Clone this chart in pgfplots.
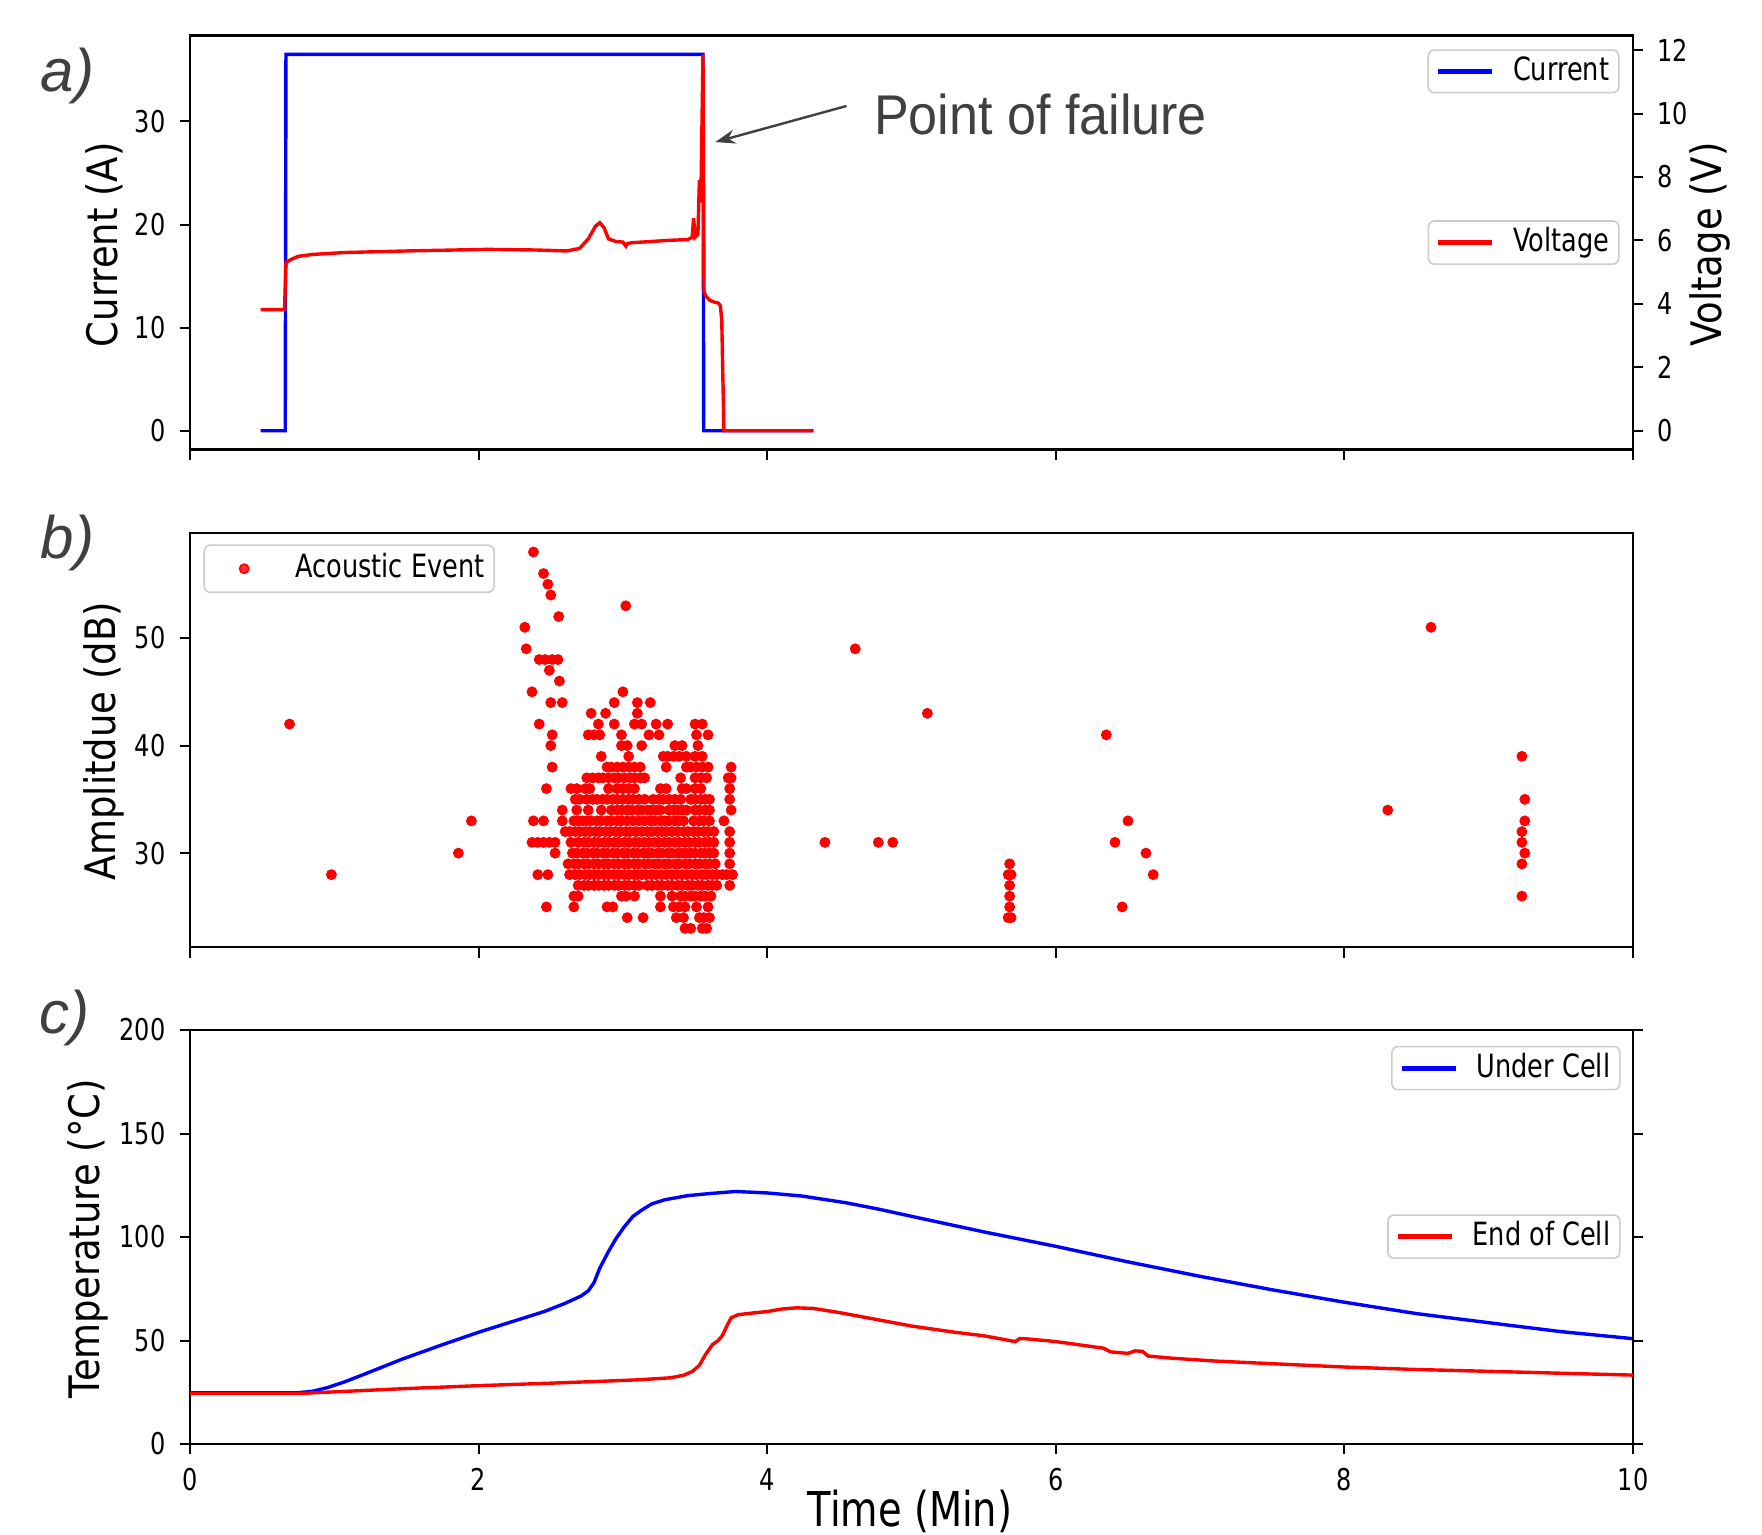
\documentclass[border=0pt]{standalone}
\usepackage{pgfplots}
\pgfplotsset{compat=1.18}
\usetikzlibrary{arrows.meta}
\usepackage{fontspec}
\setmainfont{DejaVu Sans}
\newfontfamily\narrowsans{DejaVu Sans}[FakeStretch=0.8]
\newfontfamily\labelsans{DejaVu Sans}[FakeStretch=0.88]
\newfontfamily\arialnarrow{Liberation Sans}[FakeStretch=0.93]
\newfontfamily\arialfont{Liberation Sans}
\definecolor{annot}{HTML}{404040}
\definecolor{legframe}{HTML}{CCCCCC}

\tikzset{panellabel/.style={font=\arialfont\itshape\fontsize{15}{18}\selectfont, text=annot}}

\pgfplotsset{
  panel/.style={
    scale only axis, width=360.75pt, height=103.5pt,
    xmin=0, xmax=10, xtick={0,2,...,10},
    clip mode=individual,
    tick align=outside, major tick length=2.6pt,
    xtick pos=left, ytick pos=left,
    axis line style={line width=0.6pt},
    every tick/.style={black, line width=0.5pt},
    /pgf/number format/assume math mode=true,
    tick label style={font=\narrowsans\fontsize{7.5}{9}\selectfont},
    label style={font=\labelsans\fontsize{10.5}{12}\selectfont},
    legend style={draw=legframe, rounded corners=1.5pt, fill=white, fill opacity=0.8,
      text opacity=1, font=\narrowsans\fontsize{8}{9.5}\selectfont,
      inner xsep=1.8pt, inner ysep=1pt, nodes={inner sep=0.6pt},
      /tikz/every odd column/.append style={column sep=4pt}},
    legend cell align=left,
  },
  linelegend/.style={legend image code/.code={\draw[##1, line width=1.3pt] (0pt,0pt) -- (13.5pt,0pt);}},
}

\begin{document}
\begin{tikzpicture}
\useasboundingbox (-47.5pt,-22.5pt) rectangle (393pt,361pt);

% ---------- a) current / voltage ----------
\begin{axis}[panel, at={(0,248.6pt)},
  ymin=-1.825, ymax=38.325, ytick={0,10,20,30}, xticklabels={},
  linelegend, legend style={at={(0.9907,0.967)}, anchor=north east},
  ylabel={Current (A)}, ylabel style={at={(axis description cs:-0.0592,0.495)}, anchor=center}]
\addplot[blue, line width=0.85pt] coordinates {
  (0.49,0) (0.66,0) (0.665,36.5) (3.555,36.5) (3.56,0) (4.32,0)};
\addlegendentry{Current}
\node[panellabel] at (axis description cs:-0.085,0.902) {a)};
\node[anchor=west, inner sep=0pt, text=annot, font=\arialnarrow\fontsize{14}{17}\selectfont]
  at (axis cs:4.735,30.65) {Point of failure};
\draw[annot, line width=0.6pt, -{Stealth[length=5pt, width=3.5pt]}]
  (axis cs:4.55,31.5) -- (axis cs:3.64,28.0);
\end{axis}

\begin{axis}[panel, at={(0,248.6pt)},
  ymin=-0.5935, ymax=12.46, ytick={0,2,...,12},
  axis y line*=right, axis x line=none, ytick pos=right, yticklabel pos=right,
  linelegend, legend style={at={(0.9907,0.5)}, anchor=east},
  ylabel={Voltage (V)}, ylabel style={at={(axis description cs:1.053,0.495)}, anchor=center}]
\addplot[red, line width=0.85pt] coordinates {
  (0.49,3.82) (0.655,3.82) (0.665,5.30) (0.70,5.40) (0.75,5.50) (0.85,5.56)
  (1.07,5.62) (1.5,5.67) (2.06,5.72) (2.4,5.70) (2.61,5.67) (2.70,5.75)
  (2.76,6.05) (2.81,6.45) (2.84,6.56) (2.87,6.40) (2.90,6.05) (2.95,5.97)
  (3.0,5.95) (3.02,5.82) (3.03,5.90) (3.06,5.93) (3.17,5.96) (3.3,6.00)
  (3.45,6.03) (3.48,6.1) (3.49,6.7) (3.50,6.1) (3.52,6.2) (3.53,7.9)
  (3.54,7.2) (3.555,11.87) (3.562,4.4) (3.575,4.25) (3.60,4.12) (3.62,4.08)
  (3.64,4.05) (3.66,4.03) (3.675,3.95) (3.685,3.5) (3.70,0) (4.32,0)};
\addlegendentry{Voltage}
\end{axis}

% ---------- b) acoustic events ----------
\begin{axis}[panel, at={(0,124.2pt)},
  ymin=21.25, ymax=59.75, ytick={30,40,50}, xticklabels={},
  legend style={at={(0.0093,0.973)}, anchor=north west, inner ysep=1.5pt},
  legend image code/.code={\draw[#1] plot coordinates {(8pt,0pt)};\path (0pt,0pt) (16pt,0pt);},
  ylabel={Amplitdue (dB)}, ylabel style={at={(axis description cs:-0.060,0.497)}, anchor=center}]
\addplot[only marks, mark=*, mark size=1.15pt, color=red] coordinates {
  (2.38,58) (2.45,56) (2.48,55) (2.50,54) (3.02,53) (2.555,52) (2.32,51) (8.60,51)
  (2.33,49) (4.61,49)
  (2.42,48) (2.46,48) (2.51,48) (2.55,48) (2.49,47) (2.56,46) (2.37,45) (3.00,45)
  (2.50,44) (2.58,44) (2.94,44) (3.10,44) (3.19,44)
  (2.78,43) (2.88,43) (3.10,43) (5.11,43)
  (0.69,42) (2.42,42) (2.83,42) (2.94,42) (3.08,42) (3.13,42) (3.23,42) (3.31,42) (3.50,42) (3.55,42)
  (2.51,41) (2.76,41) (2.80,41) (2.84,41) (2.99,41) (3.18,41) (3.25,41) (3.51,41) (3.59,41) (6.35,41)
  (2.50,40) (2.99,40) (3.03,40) (3.13,40) (3.36,40) (3.41,40) (3.52,40)
  (2.85,39) (3.04,39) (3.28,39) (3.31,39) (3.35,39) (3.39,39) (3.44,39) (3.50,39) (3.55,39) (9.23,39)
  (2.51,38) (2.89,38) (2.92,38) (2.96,38) (3.00,38) (3.04,38) (3.08,38) (3.12,38) (3.30,38)
  (3.44,38) (3.47,38) (3.51,38) (3.55,38) (3.59,38) (3.75,38)
  (2.75,37) (2.79,37) (2.83,37) (2.86,37) (2.90,37) (2.94,37) (2.97,37) (3.01,37) (3.05,37)
  (3.08,37) (3.12,37) (3.15,37) (3.40,37) (3.50,37) (3.54,37) (3.58,37) (3.73,37) (3.75,37)
  (2.47,36) (2.64,36) (2.68,36) (2.74,36) (2.77,36) (2.90,36) (2.96,36) (3.00,36) (3.04,36)
  (3.08,36) (3.26,36) (3.30,36) (3.41,36) (3.44,36) (3.50,36) (3.54,36) (3.74,36)
  (2.67,35) (2.70,35) (2.75,35) (2.79,35) (2.82,35) (2.86,35) (2.89,35) (2.93,35) (2.96,35)
  (3.00,35) (3.04,35) (3.07,35) (3.11,35) (3.15,35) (3.21,35) (3.25,35) (3.28,35) (3.32,35)
  (3.36,35) (3.40,35) (3.47,35) (3.50,35) (3.54,35) (3.57,35) (3.60,35) (3.74,35) (9.25,35)
  (2.58,34) (2.68,34) (2.76,34) (2.85,34) (2.92,34) (2.96,34) (2.99,34) (3.03,34) (3.06,34)
  (3.10,34) (3.13,34) (3.17,34) (3.20,34) (3.23,34) (3.26,34) (3.32,34) (3.35,34) (3.38,34)
  (3.41,34) (3.44,34) (3.50,34) (3.53,34) (3.57,34) (3.60,34) (3.75,34) (8.30,34)
  (1.95,33) (2.38,33) (2.45,33) (2.58,33) (2.66,33) (2.69,33) (2.72,33) (2.75,33) (2.78,33)
  (2.82,33) (2.85,33) (2.89,33) (2.92,33) (2.96,33) (2.99,33) (3.03,33) (3.07,33) (3.11,33)
  (3.15,33) (3.19,33) (3.22,33) (3.26,33) (3.29,33) (3.32,33) (3.36,33) (3.39,33) (3.42,33)
  (3.49,33) (3.53,33) (3.56,33) (3.60,33) (3.70,33) (6.50,33) (9.25,33)
  (2.60,32) (2.63,32) (2.67,32) (2.70,32) (2.74,32) (2.77,32) (2.81,32) (2.84,32) (2.88,32)
  (2.91,32) (2.95,32) (2.98,32) (3.02,32) (3.05,32) (3.09,32) (3.13,32) (3.17,32) (3.20,32)
  (3.24,32) (3.27,32) (3.30,32) (3.34,32) (3.38,32) (3.42,32) (3.45,32) (3.49,32) (3.52,32)
  (3.56,32) (3.59,32) (3.63,32) (3.74,32) (9.23,32)
  (2.37,31) (2.41,31) (2.45,31) (2.49,31) (2.53,31) (2.64,31) (2.69,31) (2.73,31) (2.76,31)
  (2.80,31) (2.83,31) (2.87,31) (2.90,31) (2.94,31) (2.97,31) (3.01,31) (3.04,31) (3.08,31)
  (3.11,31) (3.15,31) (3.18,31) (3.22,31) (3.25,31) (3.29,31) (3.32,31) (3.36,31) (3.39,31)
  (3.43,31) (3.46,31) (3.50,31) (3.53,31) (3.57,31) (3.60,31) (3.63,31) (3.74,31)
  (4.40,31) (4.77,31) (4.87,31) (6.41,31) (9.23,31)
  (1.86,30) (2.53,30) (2.65,30) (2.68,30) (2.72,30) (2.75,30) (2.79,30) (2.82,30) (2.86,30)
  (2.89,30) (2.93,30) (2.96,30) (3.00,30) (3.03,30) (3.07,30) (3.10,30) (3.14,30) (3.17,30)
  (3.20,30) (3.24,30) (3.27,30) (3.31,30) (3.34,30) (3.38,30) (3.41,30) (3.44,30) (3.47,30)
  (3.50,30) (3.54,30) (3.57,30) (3.60,30) (3.63,30) (3.74,30) (6.625,30) (9.25,30)
  (2.62,29) (2.66,29) (2.69,29) (2.73,29) (2.76,29) (2.80,29) (2.83,29) (2.87,29) (2.90,29)
  (2.94,29) (2.97,29) (3.01,29) (3.04,29) (3.08,29) (3.11,29) (3.15,29) (3.18,29) (3.22,29)
  (3.25,29) (3.29,29) (3.32,29) (3.36,29) (3.39,29) (3.43,29) (3.46,29) (3.50,29) (3.53,29)
  (3.57,29) (3.60,29) (3.64,29) (3.74,29) (5.68,29) (9.23,29)
  (0.98,28) (2.41,28) (2.48,28) (2.63,28) (2.67,28) (2.70,28) (2.74,28) (2.77,28) (2.80,28)
  (2.83,28) (2.87,28) (2.90,28) (2.94,28) (2.97,28) (3.01,28) (3.04,28) (3.08,28) (3.10,28)
  (3.13,28) (3.16,28) (3.20,28) (3.23,28) (3.27,28) (3.30,28) (3.34,28) (3.37,28) (3.41,28)
  (3.44,28) (3.48,28) (3.51,28) (3.55,28) (3.58,28) (3.62,28) (3.65,28) (3.69,28) (3.72,28)
  (3.76,28) (5.67,28) (5.69,28) (6.675,28)
  (2.69,27) (2.73,27) (2.76,27) (2.80,27) (2.83,27) (2.87,27) (2.90,27) (2.94,27) (2.97,27)
  (3.01,27) (3.04,27) (3.08,27) (3.11,27) (3.17,27) (3.20,27) (3.24,27) (3.27,27) (3.31,27)
  (3.34,27) (3.38,27) (3.41,27) (3.45,27) (3.48,27) (3.52,27) (3.55,27) (3.59,27) (3.62,27)
  (3.65,27) (3.74,27) (5.68,27)
  (2.66,26) (2.69,26) (2.99,26) (3.02,26) (3.08,26) (3.26,26) (3.34,26) (3.40,26) (3.43,26)
  (3.47,26) (3.50,26) (3.54,26) (3.57,26) (3.61,26) (5.68,26) (9.23,26)
  (2.47,25) (2.66,25) (2.89,25) (2.93,25) (3.26,25) (3.35,25) (3.39,25) (3.43,25) (3.51,25)
  (3.59,25) (5.68,25) (6.46,25)
  (3.03,24) (3.14,24) (3.37,24) (3.42,24) (3.53,24) (3.56,24) (3.60,24) (5.67,24) (5.69,24)
  (3.43,23) (3.47,23) (3.55,23) (3.58,23)};
\addlegendentry{Acoustic Event}
\node[panellabel] at (axis description cs:-0.085,0.976) {b)};
\end{axis}

% ---------- c) temperature ----------
\begin{axis}[panel, at={(0,0)},
  ymin=0, ymax=200, ytick={0,50,...,200},
  linelegend, legend style={at={(0.9914,0.962)}, anchor=north east},
  xlabel={Time (Min)},
  xlabel style={font=\narrowsans\fontsize{12}{14}\selectfont, at={(axis description cs:0.499,-0.163)}, anchor=center},
  ylabel={Temperature (°C)}, ylabel style={at={(axis description cs:-0.071,0.496)}, anchor=center}]
\addplot[blue, line width=0.85pt] coordinates {
  (0,24.7) (0.5,24.7) (0.75,24.8) (0.85,25.5) (0.95,27.2) (1.07,30) (1.2,33.5)
  (1.47,41) (1.75,48) (2.0,54) (2.25,59.5) (2.455,64) (2.6,68) (2.71,71.5)
  (2.76,74) (2.80,78) (2.84,85) (2.90,93) (2.95,99) (3.01,105) (3.07,110)
  (3.13,113) (3.2,116) (3.29,118) (3.45,120) (3.6,121) (3.78,122) (4.0,121.3)
  (4.24,119.8) (4.55,116.5) (4.77,113.5) (5.0,110) (5.5,102.5) (6.0,95.5)
  (6.5,88) (7.0,81) (7.5,74.5) (8.0,68.5) (8.5,63) (9.07,58) (9.5,54.3) (10,50.9)};
\addlegendentry{Under Cell}
\node[panellabel] at (axis description cs:-0.087,1.03) {c)};
\end{axis}

\begin{axis}[panel, at={(0,0)},
  ymin=0, ymax=200, ytick={0,50,...,200}, yticklabels={},
  axis y line*=right, axis x line=none, ytick pos=right,
  linelegend, legend style={at={(0.9914,0.501)}, anchor=east}]
\addplot[red, line width=0.85pt] coordinates {
  (0,24.4) (0.75,24.4) (1.0,25.2) (1.5,26.8) (2.0,28.2) (2.5,29.4) (2.81,30.2)
  (3.1,31) (3.33,32) (3.42,33.2) (3.48,35) (3.53,38) (3.57,43) (3.62,48)
  (3.66,50) (3.69,52.5) (3.72,57) (3.75,61) (3.80,62.5) (3.9,63.3) (4.0,64)
  (4.1,65.2) (4.2,65.8) (4.32,65.5) (4.5,63.5) (4.77,60) (5.0,57) (5.3,54)
  (5.5,52.3) (5.72,49.5) (5.75,51) (5.8,50.8) (6.0,49.5) (6.33,46.3) (6.38,44.5)
  (6.5,43.8) (6.55,45) (6.6,44.8) (6.64,42.5) (6.8,41.5) (7.1,40.1) (7.5,38.8)
  (8.0,37.2) (8.5,36) (9.07,35) (9.5,34.2) (10,33.3)};
\addlegendentry{End of Cell}
\end{axis}
\end{tikzpicture}
\end{document}
